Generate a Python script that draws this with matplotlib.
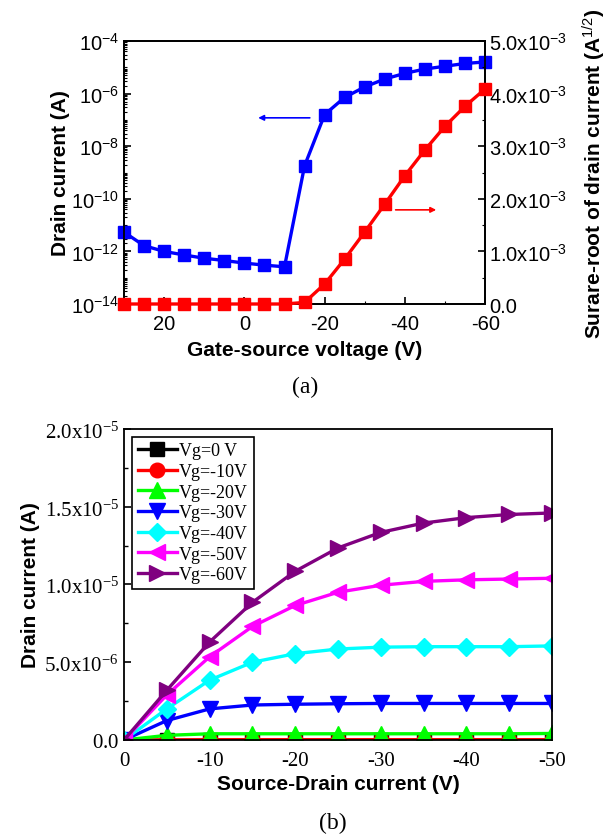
import matplotlib

matplotlib.use("Agg")
import matplotlib.pyplot as plt
from matplotlib.ticker import FixedLocator, NullFormatter, LogLocator

plt.rcParams.update({
    "font.family": ["Liberation Sans", "DejaVu Sans"],
    "mathtext.fontset": "custom",
    "mathtext.rm": "Liberation Serif",
    "mathtext.sf": "Liberation Sans",
    "xtick.direction": "in",
    "ytick.direction": "in",
})

# --- panel (a): transfer curve ---
vgs = [30, 25, 20, 15, 10, 5, 0, -5, -10, -15, -20, -25, -30, -35, -40, -45, -50, -55, -60]
id_log = [5.4e-12, 1.65e-12, 1.0e-12, 7.3e-13, 5.5e-13, 4.5e-13, 3.6e-13, 3.0e-13, 2.6e-13,
          1.8e-9, 1.6e-7, 7.2e-7, 1.8e-6, 3.6e-6, 5.9e-6, 8.6e-6, 1.1e-5, 1.4e-5, 1.6e-5]
sqrt_id = [0, 0, 0, 0, 0, 0, 0, 0, 0, 0.03e-3, 0.38e-3, 0.855e-3, 1.37e-3, 1.9e-3,
           2.44e-3, 2.93e-3, 3.38e-3, 3.76e-3, 4.09e-3]

a_xticks = [20, 0, -20, -40, -60]
a_xlabels = ["20", "0", "-20", "-40", "-60"]
a_yticks = [1e-14, 1e-12, 1e-10, 1e-8, 1e-6, 1e-4]
a_ylabels = [r"10$\mathsf{^{-14}}$", r"10$\mathsf{^{-12}}$", r"10$\mathsf{^{-10}}$",
             r"10$\mathsf{^{-8}}$", r"10$\mathsf{^{-6}}$", r"10$\mathsf{^{-4}}$"]
a_y2ticks = [0, 1e-3, 2e-3, 3e-3, 4e-3, 5e-3]
a_y2labels = ["0.0"] + [r"%d.0x10$\mathsf{^{-3}}$" % k for k in range(1, 6)]

# --- panel (b): output curves ---
vds = [0, -5, -10, -15, -20, -25, -30, -35, -40, -45, -50]
vg_labels = ["Vg=0 V", "Vg=-10V", "Vg=-20V", "Vg=-30V", "Vg=-40V", "Vg=-50V", "Vg=-60V"]
id_vg0 = [0, 0, 0, 0, 0, 0, 0, 0, 0, 0, 0]
id_vg10 = [0, 0.01e-6, 0.02e-6, 0.02e-6, 0.02e-6, 0.02e-6, 0.02e-6, 0.02e-6, 0.02e-6, 0.02e-6, 0.02e-6]
id_vg20 = [0, 0.3e-6, 0.4e-6, 0.4e-6, 0.4e-6, 0.4e-6, 0.4e-6, 0.4e-6, 0.4e-6, 0.4e-6, 0.42e-6]
id_vg30 = [0, 1.25e-6, 2.0e-6, 2.25e-6, 2.3e-6, 2.33e-6, 2.35e-6, 2.35e-6, 2.35e-6, 2.35e-6, 2.35e-6]
id_vg40 = [0, 2.0e-6, 3.85e-6, 5.0e-6, 5.55e-6, 5.85e-6, 5.97e-6, 6.0e-6, 6.0e-6, 6.0e-6, 6.05e-6]
id_vg50 = [0, 2.9e-6, 5.35e-6, 7.3e-6, 8.65e-6, 9.5e-6, 9.95e-6, 10.2e-6, 10.3e-6, 10.35e-6, 10.4e-6]
id_vg60 = [0, 3.2e-6, 6.3e-6, 8.85e-6, 10.85e-6, 12.35e-6, 13.35e-6, 13.95e-6, 14.3e-6, 14.5e-6, 14.6e-6]
id_curves = [id_vg0, id_vg10, id_vg20, id_vg30, id_vg40, id_vg50, id_vg60]
colors = ["black", "#ff0000", "#00ff00", "#0000ff", "#00ffff", "#ff00ff", "#800080"]
markers = ["s", "o", "^", "v", "D", "<", ">"]
msizes = [9.5, 10.5, 11, 11, 9.5, 11, 11]

b_xticks = [0, -10, -20, -30, -40, -50]
b_xlabels = ["0", "-10", "-20", "-30", "-40", "-50"]
b_yticks = [0, 5e-6, 1e-5, 1.5e-5, 2e-5]
b_ylabels = [r"$\mathrm{0.0}$", r"$\mathrm{5.0x10^{-6}}$", r"$\mathrm{1.0x10^{-5}}$",
             r"$\mathrm{1.5x10^{-5}}$", r"$\mathrm{2.0x10^{-5}}$"]

fig = plt.figure(figsize=(6.1, 8.37), dpi=100)

# ---------------- (a) ----------------
ax = fig.add_axes([0.2033, 0.6356, 0.592, 0.3142])
ax2 = ax.twinx()
ax.plot(vgs, id_log, color="#0000ff", lw=2.4, marker="s", ms=8.5, clip_on=False, zorder=3)
ax2.plot(vgs, sqrt_id, color="#ff0000", lw=2.4, marker="s", ms=8.5, clip_on=False, zorder=3)
ax.set_yscale("log")
ax.set_xlim(30, -60)
ax.set_ylim(1e-14, 1e-4)
ax2.set_ylim(0, 5e-3)
ax.set_xticks(a_xticks)
ax.set_xticklabels(a_xlabels)
ax.xaxis.set_minor_locator(FixedLocator([10, -10, -30, -50]))
ax.set_yticks(a_yticks)
ax.set_yticklabels(a_ylabels)
ax.yaxis.set_minor_locator(LogLocator(base=10, subs=range(1, 10), numticks=30))
ax.yaxis.set_minor_formatter(NullFormatter())
ax2.set_yticks(a_y2ticks)
ax2.set_yticklabels(a_y2labels)
ax2.yaxis.set_minor_locator(FixedLocator([0.5e-3, 1.5e-3, 2.5e-3, 3.5e-3, 4.5e-3]))
ax.tick_params(labelsize=14.5, length=5, width=1.2)
ax.tick_params(axis="x", pad=7)
ax.tick_params(which="minor", length=2.5, width=0.8)
ax2.tick_params(labelsize=14.5, length=5, width=1.2, pad=3)
ax2.tick_params(which="minor", length=2.5, width=0.8)
for a in (ax, ax2):
    for s in a.spines.values():
        s.set_linewidth(1.3)
ax.set_xlabel("Gate-source voltage (V)", fontsize=15, fontweight="bold", labelpad=5)
ax.set_ylabel("Drain current (A)", fontsize=15, fontweight="bold", labelpad=1)
ax2.set_ylabel(r"Surare-root of drain current (A$\mathsf{^{1/2}}$)", fontsize=15,
               fontweight="bold", labelpad=10)
ax.annotate("", xy=(-2.75, 1.2e-7), xytext=(-17, 1.2e-7),
            arrowprops=dict(arrowstyle="-|>", color="#0000ff", lw=1.2, mutation_scale=8))
ax2.annotate("", xy=(-48.5, 1.79e-3), xytext=(-37, 1.79e-3),
             arrowprops=dict(arrowstyle="-|>", color="#ff0000", lw=1.2, mutation_scale=8))
fig.text(0.5, 1 - 387 / 837, "(a)", ha="center", va="center", fontsize=17,
         family="Liberation Serif")

# ---------------- (b) ----------------
bx = fig.add_axes([0.2033, 0.1147, 0.7016, 0.3716])
for ys, c, m, ms, lab in zip(id_curves, colors, markers, msizes, vg_labels):
    bx.plot(vds, ys, color=c, lw=2.4, marker=m, ms=ms, label=lab)
bx.set_xlim(0, -50)
bx.set_ylim(0, 2e-5)
bx.set_xticks(b_xticks)
bx.set_xticklabels(b_xlabels, family="Liberation Serif")
bx.set_yticks(b_yticks)
bx.set_yticklabels(b_ylabels)
bx.yaxis.set_minor_locator(FixedLocator([2.5e-6, 7.5e-6, 1.25e-5, 1.75e-5]))
bx.tick_params(labelsize=15, length=5, width=1.2)
bx.tick_params(axis="x", pad=8)
bx.tick_params(which="minor", length=3, width=1.0)
for s in bx.spines.values():
    s.set_linewidth(1.3)
bx.set_xlabel("Source-Drain current (V)", fontsize=15, fontweight="bold", labelpad=3)
bx.set_ylabel("Drain current (A)", fontsize=15, fontweight="bold", labelpad=3)
leg = bx.legend(loc="upper left", bbox_to_anchor=(0.019, 0.974), borderaxespad=0,
                prop={"family": "Liberation Serif", "size": 13}, handlelength=2.2,
                handletextpad=0.1, labelspacing=0.2, borderpad=0.3,
                fancybox=False, edgecolor="black", framealpha=1)
leg.get_frame().set_linewidth(1.2)
fig.text(333 / 610, 1 - 823 / 837, "(b)", ha="center", va="center", fontsize=17,
         family="Liberation Serif")

fig.savefig("out.png", dpi=100)
